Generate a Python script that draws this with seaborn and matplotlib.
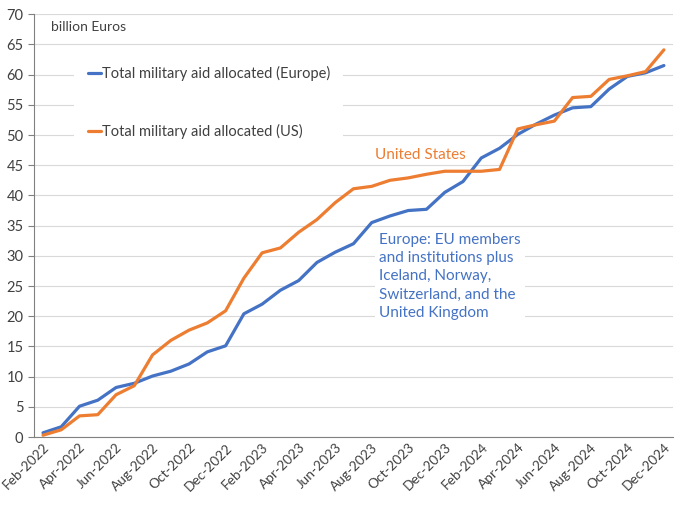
import seaborn as sns
import pandas as pd
import matplotlib.pyplot as plt

months = pd.date_range("2022-02-01", "2024-12-01", freq="MS")
month_labels = [m.strftime("%b-%Y") for m in months]

europe = [0.7, 1.7, 5.1, 6.1, 8.2, 8.9, 10.1, 10.9, 12.1, 14.1, 15.1,
          20.4, 22.0, 24.3, 25.9, 28.9, 30.6, 32.0, 35.5, 36.6, 37.5, 37.7,
          40.5, 42.3, 46.2, 47.8, 50.1, 51.8, 53.3, 54.5, 54.7, 57.6, 59.7,
          60.3, 61.5]
us = [0.3, 1.2, 3.5, 3.7, 7.0, 8.5, 13.6, 16.0, 17.7, 18.9, 20.9,
      26.3, 30.5, 31.3, 33.9, 36.0, 38.8, 41.1, 41.5, 42.5, 42.9, 43.5,
      44.0, 44.0, 44.0, 44.3, 51.0, 51.7, 52.3, 56.2, 56.4, 59.2, 59.8,
      60.5, 64.1]

series_names = ["Total military aid allocated (Europe)",
                "Total military aid allocated (US)"]
colors = ["#4472C4", "#ED7D31"]

df = pd.DataFrame({
    "idx": list(range(len(months))) * 2,
    "value": europe + us,
    "series": [series_names[0]] * len(europe) + [series_names[1]] * len(us),
})

sns.set_theme(style="white")
plt.rcParams["font.family"] = ["Lato", "DejaVu Sans"]

fig = plt.figure(figsize=(6.91, 5.07), dpi=100)
ax = fig.add_axes([0.049, 0.138, 0.925, 0.834])

sns.lineplot(data=df, x="idx", y="value", hue="series", palette=colors,
             linewidth=2.3, ax=ax, legend=True)

ax.set_xlim(-0.5, len(months) - 0.5)
ax.set_ylim(0, 70)
ax.set_yticks(range(0, 71, 5))
ax.set_xticks(range(0, len(months), 2))
ax.set_xticklabels(month_labels[::2], rotation=45, ha="right",
                   rotation_mode="anchor", fontsize=9.8, color="#404040")
ax.tick_params(axis="y", labelsize=10.5, labelcolor="#404040", length=4,
               color="#808080", left=True, width=0.8)
ax.tick_params(axis="x", length=0, pad=3)
ax.set_xlabel("")
ax.set_ylabel("")
ax.grid(axis="y", color="#D9D9D9", linewidth=0.8)
ax.set_axisbelow(True)
for side in ["top", "right"]:
    ax.spines[side].set_visible(False)
for side in ["left", "bottom"]:
    ax.spines[side].set_color("#808080")
    ax.spines[side].set_linewidth(0.8)

ax.text(0.027, 0.985, "billion Euros", transform=ax.transAxes, fontsize=10,
        color="#404040", va="top")

leg = ax.legend(loc="upper left", bbox_to_anchor=(0.052, 0.925), fontsize=10.5,
                frameon=True, facecolor="white", edgecolor="none",
                framealpha=1, handlelength=0.9, handletextpad=0.1,
                labelspacing=2.95, borderpad=0.9, fancybox=False)
for t in leg.get_texts():
    t.set_color("#404040")

ax.text(18.2, 46.7, "United States", fontsize=11, color=colors[1],
        va="center")
ax.text(18.4, 33.8,
        "Europe: EU members\nand institutions plus\nIceland, Norway,\n"
        "Switzerland, and the\nUnited Kingdom",
        fontsize=11, color="#4472C4", va="top", linespacing=1.38,
        bbox=dict(facecolor="white", edgecolor="none", pad=3))

fig.savefig("out.png", dpi=100)
